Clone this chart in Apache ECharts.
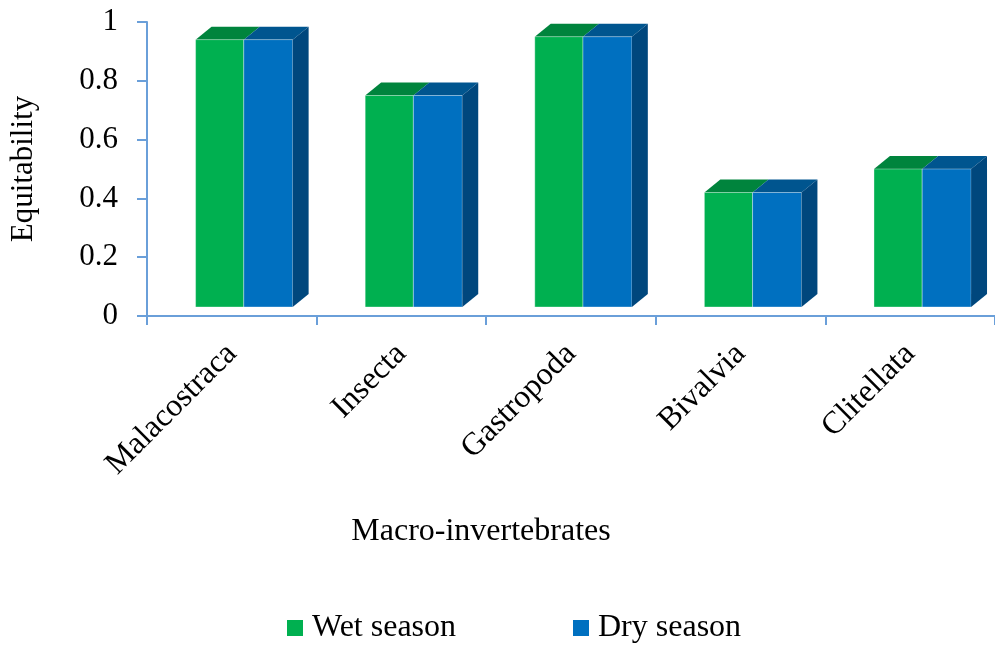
<!DOCTYPE html>
<html>
<head>
<meta charset="utf-8">
<script src="https://cdn.jsdelivr.net/npm/echarts@6/dist/echarts.min.js"></script>
<style>
html,body{margin:0;padding:0;background:#fff;}
#chart{width:995px;height:645px;}
</style>
</head>
<body>
<div id="chart"></div>
<script>
var categories = ['Malacostraca', 'Insecta', 'Gastropoda', 'Bivalvia', 'Clitellata'];
var wetSeason = [0.94, 0.75, 0.95, 0.42, 0.50];
var drySeason = [0.94, 0.75, 0.95, 0.42, 0.50];
var seriesNames = ['Wet season', 'Dry season'];
var yTicks = [0, 0.2, 0.4, 0.6, 0.8, 1];

var FONT = '"Liberation Serif", "Times New Roman", serif';
var AXIS_COLOR = '#6A9FD9';

var faceColors = [
  { front: '#00B050', top: '#00843D', side: '#00693A' },
  { front: '#0070C0', top: '#00558F', side: '#00477D' }
];

function makeRender(seriesIndex) {
  return function (params, api) {
    var idx = api.value(0);
    var val = api.value(1);
    var base = api.coord([idx, 0]);
    var topP = api.coord([idx, val]);
    var bw = api.size([1, 0])[0];
    var c = base[0];
    var y0 = base[1] - 9;
    var y1 = topP[1];
    var dx = bw * 0.094, dy = 13;
    var gx0 = c - bw * 0.2135, split = c + bw * 0.0706, bx1 = c + bw * 0.359;
    var x0 = seriesIndex === 0 ? gx0 : split;
    var x1 = seriesIndex === 0 ? split : bx1;
    var col = faceColors[seriesIndex];
    var children = [
      {
        type: 'polygon',
        shape: { points: [[x0, y1], [x1, y1], [x1 + dx, y1 - dy], [x0 + dx, y1 - dy]] },
        style: { fill: col.top }
      },
      {
        type: 'rect',
        shape: { x: x0, y: y1, width: x1 - x0, height: y0 - y1 },
        style: { fill: col.front, stroke: 'rgba(255,255,255,0.35)', lineWidth: 1 }
      }
    ];
    if (seriesIndex === 1) {
      children.push({
        type: 'polygon',
        shape: { points: [[x1, y1], [x1 + dx, y1 - dy], [x1 + dx, y0 - dy], [x1, y0]] },
        style: { fill: col.side }
      });
    }
    return { type: 'group', children: children };
  };
}

function toData(arr) {
  return arr.map(function (v, i) { return [i, v]; });
}

var chart = echarts.init(document.getElementById('chart'), null, { renderer: 'canvas' });
chart.setOption({
  animation: false,
  backgroundColor: '#ffffff',
  textStyle: { fontFamily: FONT, color: '#000' },
  grid: { left: 147, top: 22, width: 850, height: 294, containLabel: false },
  legend: [
    {
      data: [seriesNames[0]], left: 287, top: 612, padding: 0,
      icon: 'rect', itemWidth: 16, itemHeight: 16,
      textStyle: { fontFamily: FONT, fontSize: 32, color: '#000', padding: [0, 0, 0, 4] }
    },
    {
      data: [seriesNames[1]], left: 573, top: 612, padding: 0,
      icon: 'rect', itemWidth: 16, itemHeight: 16,
      textStyle: { fontFamily: FONT, fontSize: 32, color: '#000', padding: [0, 0, 0, 4] }
    }
  ],
  xAxis: {
    type: 'category',
    data: categories,
    boundaryGap: true,
    axisLine: { lineStyle: { color: AXIS_COLOR, width: 2 } },
    axisTick: { show: true, length: 9, lineStyle: { color: AXIS_COLOR, width: 2 } },
    axisLabel: { rotate: 45, fontFamily: FONT, fontSize: 32, color: '#000', margin: 33, interval: 0 },
    splitLine: { show: false }
  },
  yAxis: {
    type: 'value',
    min: yTicks[0],
    max: yTicks[yTicks.length - 1],
    interval: 0.2,
    name: 'Equitability',
    nameLocation: 'middle',
    nameRotate: 90,
    nameGap: 108,
    nameTextStyle: { fontFamily: FONT, fontSize: 31, color: '#000' },
    axisLine: { show: true, lineStyle: { color: AXIS_COLOR, width: 2 } },
    axisTick: { show: true, length: 10, lineStyle: { color: AXIS_COLOR, width: 2 } },
    axisLabel: { fontFamily: FONT, fontSize: 31, color: '#000', margin: 29 },
    splitLine: { show: false }
  },
  graphic: [
    {
      type: 'text',
      x: 481, y: 532,
      style: {
        text: 'Macro-invertebrates',
        font: '32px ' + FONT,
        fill: '#000',
        textAlign: 'center',
        textVerticalAlign: 'middle'
      }
    }
  ],
  series: [
    {
      name: seriesNames[0],
      type: 'custom',
      renderItem: makeRender(0),
      itemStyle: { color: faceColors[0].front },
      encode: { x: 0, y: 1 },
      clip: false,
      data: toData(wetSeason),
      z: 2
    },
    {
      name: seriesNames[1],
      type: 'custom',
      renderItem: makeRender(1),
      itemStyle: { color: faceColors[1].front },
      encode: { x: 0, y: 1 },
      clip: false,
      data: toData(drySeason),
      z: 3
    }
  ]
});
</script>
</body>
</html>
